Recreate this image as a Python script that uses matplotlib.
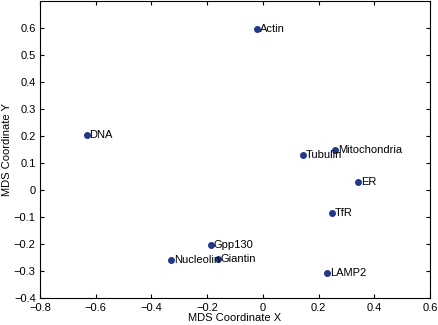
import matplotlib
matplotlib.use('Agg')
import matplotlib.pyplot as plt

plt.rcParams['font.family'] = ['Liberation Sans', 'DejaVu Sans']
plt.rcParams['font.size'] = 8

# MDS coordinates per location
names = ['Actin', 'DNA', 'Tubulin', 'Mitochondria', 'ER', 'TfR',
         'LAMP2', 'Gpp130', 'Giantin', 'Nucleolin']
mds_x = [-0.02, -0.632, 0.144, 0.259, 0.341, 0.248, 0.23, -0.187, -0.162, -0.33]
mds_y = [0.595, 0.204, 0.13, 0.148, 0.03, -0.085, -0.307, -0.204, -0.255, -0.26]

fig = plt.figure(figsize=(4.38, 3.25), dpi=100)
ax = fig.add_axes([0.091, 0.083, 0.891, 0.914])

ax.plot(mds_x, mds_y, 'o', color='#22398a', markersize=4)
for n, x, y in zip(names, mds_x, mds_y):
    ax.annotate(n, (x, y), xytext=(2, 0), textcoords='offset points',
                va='center', ha='left', fontsize=8)

ax.set_xlim(-0.8, 0.6)
ax.set_ylim(-0.4, 0.7)
ax.set_xticks([-0.8, -0.6, -0.4, -0.2, 0, 0.2, 0.4, 0.6])
ax.set_yticks([-0.4, -0.3, -0.2, -0.1, 0, 0.1, 0.2, 0.3, 0.4, 0.5, 0.6])
ax.set_xticklabels(['\u22120.8', '\u22120.6', '\u22120.4', '\u22120.2', '0', '0.2', '0.4', '0.6'])
ax.set_yticklabels(['\u22120.4', '\u22120.3', '\u22120.2', '\u22120.1', '0', '0.1', '0.2',
                    '0.3', '0.4', '0.5', '0.6'])
ax.tick_params(direction='in', top=True, right=True, length=3)
ax.tick_params(axis='x', pad=3.5)
ax.tick_params(axis='y', pad=3)
ax.set_xlabel('MDS Coordinate X', labelpad=0)
ax.set_ylabel('MDS Coordinate Y', labelpad=1)

fig.savefig('out.png', dpi=100)
